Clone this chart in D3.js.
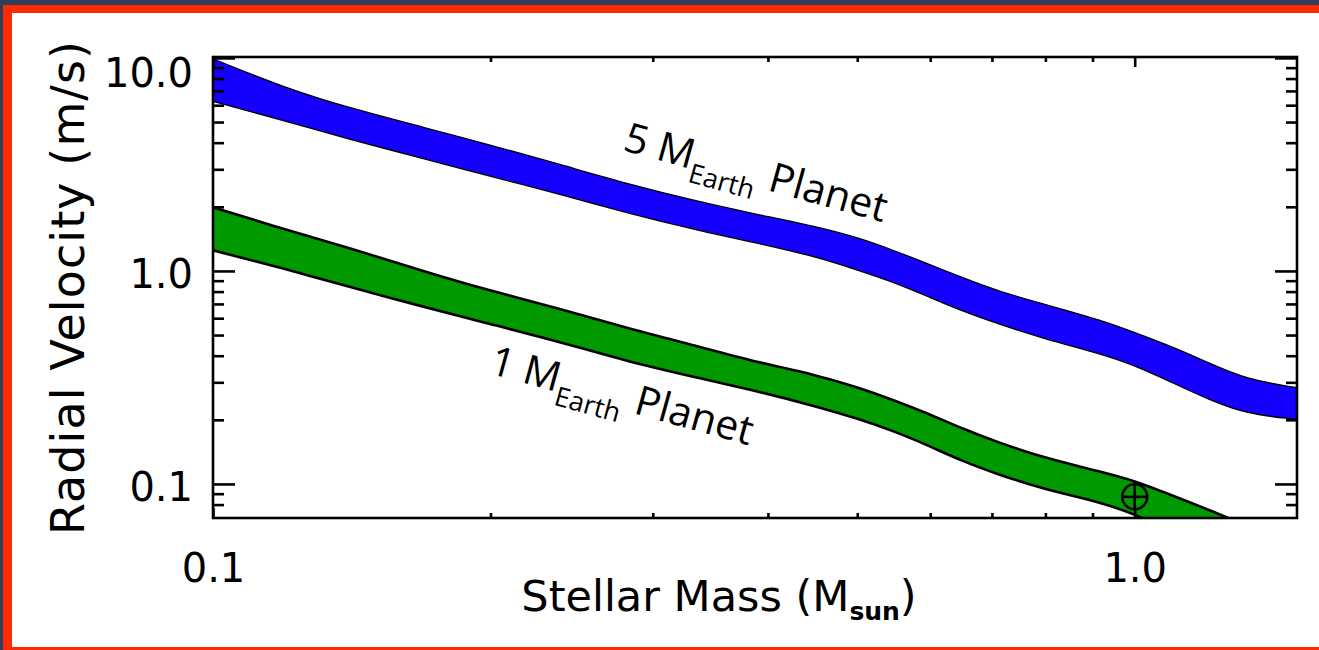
<!DOCTYPE html>
<html>
<head>
<meta charset="utf-8">
<script src="https://cdn.jsdelivr.net/npm/d3@7"></script>
<style>
  html, body { margin: 0; overflow: hidden; background: #2f3c5a; }
  svg { display: block; }
</style>
</head>
<body>
<script>
/////////////////////////////////////////////DATA////////////////////////////////////////////////////

// stellar mass (M_sun) where the band edges were read
var massGrid = [0.10, 0.12, 0.14, 0.17, 0.20, 0.24, 0.28, 0.34, 0.39, 0.45, 0.50, 0.55,
                0.60, 0.65, 0.71, 0.80, 0.92, 1.00, 1.10, 1.20, 1.32, 1.50];

// radial velocity (m/s), 5 Earth-mass planet band
var rv5Upper = [9.9, 7.2, 5.85, 4.7, 3.90, 3.13, 2.58, 2.09, 1.84, 1.62, 1.44, 1.24,
                1.07, 0.93, 0.805, 0.695, 0.588, 0.514, 0.440, 0.372, 0.310, 0.283];
var rv5Lower = [6.25, 5.05, 4.17, 3.35, 2.78, 2.27, 1.88, 1.53, 1.35, 1.17, 1.01, 0.88,
                0.75, 0.648, 0.565, 0.478, 0.408, 0.360, 0.298, 0.250, 0.213, 0.201];

// radial velocity (m/s), 1 Earth-mass planet band (runs off the bottom of the plot)
var rv1Upper = [1.99, 1.56, 1.29, 0.99, 0.806, 0.66, 0.54, 0.437, 0.372, 0.326, 0.285, 0.246,
                0.212, 0.182, 0.157, 0.132, 0.114, 0.1035, 0.088, 0.076, 0.064, null];
var rv1Lower = [1.25, 1.02, 0.845, 0.675, 0.563, 0.46, 0.378, 0.311, 0.272, 0.232, 0.203, 0.176,
                0.150, 0.128, 0.111, 0.094, 0.082, 0.072, 0.060, null, null, null];

// the Earth itself
var earthMass = 1.0,
    earthRV = 0.087;

var xMajorTicks = [0.1, 1.0],
    xMajorLabels = ["0.1", "1.0"],
    xMinorTicks = [0.2, 0.3, 0.4, 0.5, 0.6, 0.7, 0.8, 0.9];
var yMajorTicks = [0.1, 1.0, 10.0],
    yMajorLabels = ["0.1", "1.0", "10.0"],
    yMinorTicks = [0.08, 0.09, 0.2, 0.3, 0.4, 0.5, 0.6, 0.7, 0.8, 0.9, 2, 3, 4, 5, 6, 7, 8, 9];

var bandNames = ["5 M", "1 M"],
    bandSub = "Earth",
    bandTail = "Planet";

var xTitle = "Stellar Mass (M",
    xTitleSub = "sun",
    yTitle = "Radial Velocity (m/s)";

/////////////////////////////////////////////LAYOUT//////////////////////////////////////////////////

var width = 1319,
    height = 650,
    plotLeft = 213,
    plotTop = 57,
    plotRight = 1297,
    plotBottom = 518,
    axisFont = "'DejaVu Sans', sans-serif";

var svg = d3.select("body").append("svg")
    .attr("width", width)
    .attr("height", height);

// slide frame: navy background, red border, white card running off the right edge
svg.append("rect").attr("width", width).attr("height", height).attr("fill", "#2f3c5a");
svg.append("rect").attr("x", 3).attr("y", 5).attr("width", width - 3).attr("height", height - 5)
    .attr("fill", "#fe2a00");
svg.append("rect").attr("x", 12).attr("y", 13).attr("width", width - 12).attr("height", 634)
    .attr("fill", "#ffffff");

var x = d3.scaleLog().domain([0.1, 1.5]).range([plotLeft, plotRight]);
var y = d3.scaleLog().domain([0.0692, 10.1]).range([plotBottom, plotTop]);

svg.append("clipPath").attr("id", "plotClip")
  .append("rect")
    .attr("x", plotLeft).attr("y", plotTop)
    .attr("width", plotRight - plotLeft).attr("height", plotBottom - plotTop);

/////////////////////////////////////////////BANDS///////////////////////////////////////////////////

function edgePoints(values) {
    var pts = [];
    for (var i = 0; i < massGrid.length; i++) {
        if (values[i] != null) pts.push([massGrid[i], values[i]]);
    }
    return pts;
}

var edgeLine = d3.line()
    .x(function (d) { return x(d[0]); })
    .y(function (d) { return y(d[1]); })
    .curve(d3.curveBasis);

function drawBand(upper, lower, fill, strokeWidth) {
    var up = edgePoints(upper),
        low = edgePoints(lower);
    var outline = edgeLine(up) + edgeLine(low.slice().reverse()).replace(/^M/, "L") + "Z";
    var g = svg.append("g").attr("clip-path", "url(#plotClip)");
    g.append("path")
        .attr("d", outline)
        .attr("fill", fill);
    [up, low].forEach(function (pts) {
        g.append("path")
            .attr("d", edgeLine(pts))
            .attr("fill", "none")
            .attr("stroke", "#000")
            .attr("stroke-width", strokeWidth);
    });
}

drawBand(rv5Upper, rv5Lower, "#1500ff", 1.3);
drawBand(rv1Upper, rv1Lower, "#009a00", 2.6);

/////////////////////////////////////////////AXES////////////////////////////////////////////////////

function styleAxis(g) {
    g.select(".domain").remove();
    g.selectAll("line").attr("stroke", "#000").attr("stroke-width", 2.6);
    g.selectAll("text").attr("font-family", axisFont).attr("font-size", 40).attr("fill", "#000");
}

// left
svg.append("g").attr("transform", "translate(" + plotLeft + ",0)")
    .call(d3.axisLeft(y).tickValues(yMajorTicks).tickSize(-22).tickPadding(20)
        .tickFormat(function (d, i) { return yMajorLabels[i]; }))
    .call(styleAxis)
    .selectAll("text").attr("dy", function (d) { return d === 10 ? "0.72em" : "0.42em"; });
svg.append("g").attr("transform", "translate(" + plotLeft + ",0)")
    .call(d3.axisLeft(y).tickValues(yMinorTicks).tickSize(-11).tickFormat(""))
    .call(styleAxis);
// right
svg.append("g").attr("transform", "translate(" + plotRight + ",0)")
    .call(d3.axisRight(y).tickValues(yMajorTicks).tickSize(-22).tickFormat(""))
    .call(styleAxis);
svg.append("g").attr("transform", "translate(" + plotRight + ",0)")
    .call(d3.axisRight(y).tickValues(yMinorTicks).tickSize(-11).tickFormat(""))
    .call(styleAxis);
// bottom
svg.append("g").attr("transform", "translate(0," + plotBottom + ")")
    .call(d3.axisBottom(x).tickValues(xMajorTicks).tickSize(-10).tickPadding(36)
        .tickFormat(function (d, i) { return xMajorLabels[i]; }))
    .call(styleAxis);
svg.append("g").attr("transform", "translate(0," + plotBottom + ")")
    .call(d3.axisBottom(x).tickValues(xMinorTicks).tickSize(-5).tickFormat(""))
    .call(styleAxis);
// top
svg.append("g").attr("transform", "translate(0," + plotTop + ")")
    .call(d3.axisTop(x).tickValues(xMajorTicks).tickSize(-10).tickFormat(""))
    .call(styleAxis);
svg.append("g").attr("transform", "translate(0," + plotTop + ")")
    .call(d3.axisTop(x).tickValues(xMinorTicks).tickSize(-5).tickFormat(""))
    .call(styleAxis);

// plot frame
svg.append("rect")
    .attr("x", plotLeft).attr("y", plotTop)
    .attr("width", plotRight - plotLeft).attr("height", plotBottom - plotTop)
    .attr("fill", "none").attr("stroke", "#000").attr("stroke-width", 2.6);

// axis titles
var xt = svg.append("text")
    .attr("x", 719).attr("y", 611)
    .attr("text-anchor", "middle")
    .attr("font-family", axisFont).attr("font-size", 43).attr("fill", "#000");
xt.append("tspan").text(xTitle);
xt.append("tspan").attr("dy", 9).attr("font-size", 25).attr("font-weight", "bold").text(xTitleSub);
xt.append("tspan").attr("dy", -9).text(")");

svg.append("text")
    .attr("transform", "translate(84," + (plotTop + plotBottom) / 2 + ") rotate(-90)")
    .attr("text-anchor", "middle")
    .attr("font-family", axisFont).attr("font-size", 46).attr("letter-spacing", 1.1)
    .attr("fill", "#000")
    .text(yTitle);

/////////////////////////////////////////////LABELS//////////////////////////////////////////////////

var labelAnchors = [[0.2777, 3.70], [0.1987, 0.332]];

bandNames.forEach(function (name, i) {
    var px = x(labelAnchors[i][0]),
        py = y(labelAnchors[i][1]);
    var t = svg.append("text")
        .attr("transform", "translate(" + px + "," + py + ") rotate(15.5)")
        .attr("font-family", "'Open Sans', sans-serif")
        .attr("font-size", 41)
        .attr("fill", "#000");
    t.append("tspan").text(name);
    t.append("tspan").attr("dy", 13).attr("font-size", 27).text(bandSub);
    t.append("tspan").attr("dy", -13).attr("dx", 12).text(bandTail);
});

// Earth symbol
var earth = svg.append("g")
    .attr("transform", "translate(" + x(earthMass) + "," + y(earthRV) + ")")
    .attr("fill", "none").attr("stroke", "#000").attr("stroke-width", 2.6);
earth.append("circle").attr("r", 12.5);
earth.append("line").attr("x1", -12.5).attr("x2", 12.5);
earth.append("line").attr("y1", -12.5).attr("y2", 12.5);
</script>
</body>
</html>
